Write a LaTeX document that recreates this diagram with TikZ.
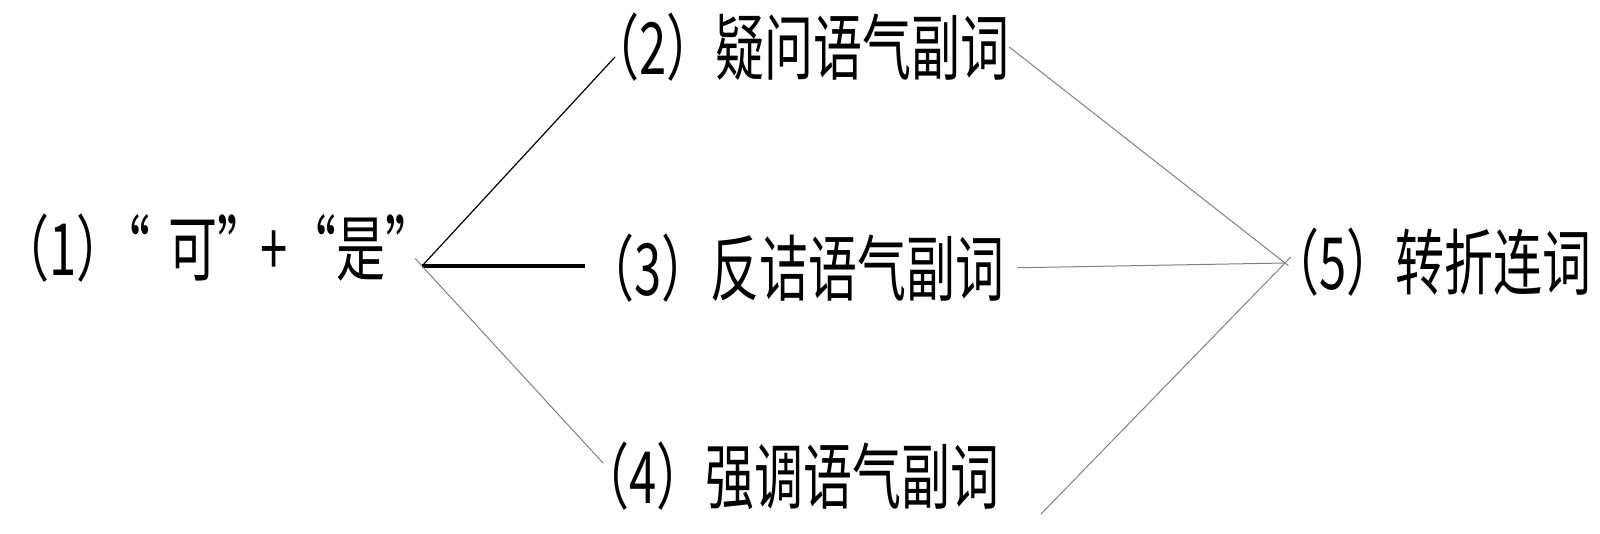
\documentclass[tikz,border=0pt]{standalone}
\usepackage{fontspec}
\newfontfamily\cjk[FakeStretch=0.68]{Noto Sans CJK SC}
\tikzset{
  term/.style={inner sep=0pt,anchor=west,font=\cjk\fontsize{72}{80}\selectfont},
  link/.style={line width=1pt,gray},
}
\begin{document}
\begin{tikzpicture}[x=1pt,y=-1pt,line cap=round,line join=round]
  \useasboundingbox (0,0) rectangle (1600,533);
  % terms
  \node[term] (n1) at (0,248) {（1）\hspace{-24pt}“\hspace{18pt}可”\hspace{-6pt}+“是”};
  \node[term] (n2) at (590,47) {（2）疑问语气副词};
  \node[term] (n3) at (585,268) {（3）反诘语气副词};
  \node[term] (n4) at (580,476) {（4）强调语气副词};
  \node[term] (n5) at (1270,262) {（5）转折连词};
  % junctions and free ends
  \coordinate (j1) at (422,266);
  \coordinate (j5) at (1285,263);
  \coordinate (e2) at ([xshift=25pt,yshift=-10pt]n2.west);
  \coordinate (e4) at ([xshift=23pt,yshift=13pt]n4.west);
  \coordinate (t4) at (1041,514);
  % left fan
  \draw[line width=1.2pt] (j1) -- (e2);
  \draw[line width=4pt,line cap=butt] (j1) -- (j1 -| n3.west);
  \draw[link,shorten <=-10pt] (j1) -- (e4);
  % right fan
  \draw[link,shorten >=-4pt] (n2.east) -- (j5);
  \draw[link,shorten <=13pt] (n3.east) -- (j5);
  \draw[link,shorten <=-8pt] (j5) -- (t4);
\end{tikzpicture}
\end{document}
